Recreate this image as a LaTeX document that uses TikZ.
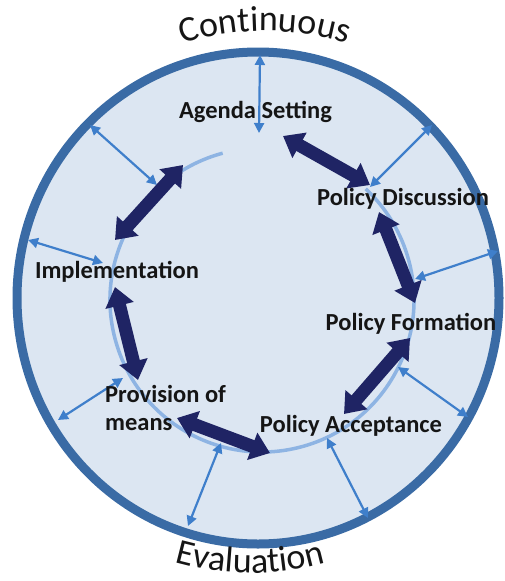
\documentclass[tikz,border=0pt]{standalone}
\usepackage{fontspec}
\setmainfont{Carlito}
\usetikzlibrary{arrows.meta,decorations.text}
\definecolor{ringc}{HTML}{3A6BA5}
\definecolor{fillc}{HTML}{DCE6F2}
\definecolor{arcc}{HTML}{8EB4E3}
\definecolor{thinc}{HTML}{3F7FCB}
\definecolor{darkc}{HTML}{1F2464}
\definecolor{txtc}{HTML}{151515}
\newcommand{\curvefont}{\fontsize{36}{36}\selectfont}
\begin{document}
\begin{tikzpicture}[x=1pt,y=1pt,
  thinarrow/.style={draw=thinc, line width=2.2pt, {Triangle[length=10pt,width=10pt]}-{Triangle[length=10pt,width=10pt]}},
  darkarrow/.style={draw=darkc, line width=13pt, {Triangle[length=19pt,width=28pt]}-{Triangle[length=19pt,width=28pt]}},
  stagetext/.style={font=\fontsize{24.5}{28}\selectfont\bfseries, text=txtc, inner sep=0pt, anchor=base}]
\useasboundingbox (0,0) rectangle (505,-581);
% outer ring
\draw[ringc, line width=9pt, fill=fillc] (258,-298) ellipse [x radius=241, y radius=246];
% inner light cycle
\draw[arcc, line width=3.5pt] (262,-300) ++(105:152) arc[start angle=105, end angle=407, radius=152];
% coordinates of thin arrows
\coordinate (t1a) at (260,-55);  \coordinate (t1b) at (259,-133);
\coordinate (t2a) at (90,-125);  \coordinate (t2b) at (157,-185);
\coordinate (t3a) at (432,-125); \coordinate (t3b) at (370,-187);
\coordinate (t4a) at (28,-240);  \coordinate (t4b) at (103,-263);
\coordinate (t5a) at (498,-251); \coordinate (t5b) at (415,-279);
\coordinate (t6a) at (398,-367); \coordinate (t6b) at (468,-417);
\coordinate (t7a) at (58,-420);  \coordinate (t7b) at (123,-378);
\coordinate (t8a) at (188,-526); \coordinate (t8b) at (221,-443);
\coordinate (t9a) at (327,-438); \coordinate (t9b) at (368,-518);
\foreach \i in {1,...,9} {\draw[thinarrow] (t\i a) -- (t\i b);}
% coordinates of dark arrows
\coordinate (d1a) at (283,-136); \coordinate (d1b) at (370,-185);
\coordinate (d2a) at (379,-212); \coordinate (d2b) at (415,-303);
\coordinate (d3a) at (410,-338); \coordinate (d3b) at (344,-414);
\coordinate (d4a) at (270,-453); \coordinate (d4b) at (177,-418);
\coordinate (d5a) at (138,-380); \coordinate (d5b) at (115,-287);
\coordinate (d6a) at (115,-240); \coordinate (d6b) at (183,-165);
\foreach \i in {1,...,6} {\draw[darkarrow] (d\i a) -- (d\i b);}
% stage labels
\node[stagetext] (agenda) at (255.5,-118) {Agenda Setting};
\node[stagetext] (discussion) at (403,-205) {Policy Discussion};
\node[stagetext] (formation) at (411,-330) {Policy Formation};
\node[stagetext] (acceptance) at (351,-432) {Policy Acceptance};
\node[stagetext] (implementation) at (117,-278) {Implementation};
\node[stagetext, anchor=base west, align=left] (provision) at (105,-430) {Provision of\\means};
% curved titles
\path[decorate, decoration={text along path, text={|\curvefont|Continuous}, text align=center, text color=txtc}]
  (265,-298) ++(125:267) arc[start angle=125, end angle=55, radius=267];
\path[decorate, decoration={text along path, text={|\curvefont|Evaluation}, text align=center, text color=txtc}]
  (250,-295) ++(235:278) arc[start angle=235, end angle=305, radius=278];
\end{tikzpicture}
\end{document}
